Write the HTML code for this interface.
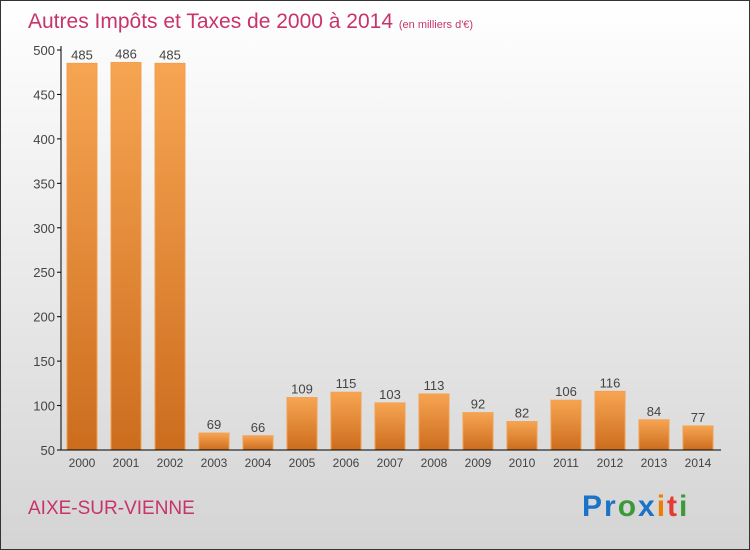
<!DOCTYPE html>
<html><head><meta charset="utf-8"><style>
body{margin:0;width:750px;height:550px;overflow:hidden;font-family:"Liberation Sans",sans-serif}
#wrap{position:absolute;left:0;top:0;width:748px;height:548px;border:1px solid #333;background:linear-gradient(#ffffff,#d4d4d4)}
</style></head><body>
<div id="wrap">
<svg id="chart" width="750" height="550" style="position:absolute;left:-1px;top:-1px">
<defs><linearGradient id="bg" x1="0" y1="0" x2="0" y2="1"><stop offset="0" stop-color="#f7a552"/><stop offset="1" stop-color="#cc6d1e"/></linearGradient></defs>
<text x="28" y="28" font-size="21" fill="#c8336b">Autres Impôts et Taxes de 2000 à 2014 <tspan font-size="11">(en milliers d'€)</tspan></text>
<g id="bars"></g>
<line x1="61" y1="46" x2="61" y2="450" stroke="#000"/>
<line x1="61" y1="450" x2="721" y2="450" stroke="#000"/>
<text x="28" y="514" font-size="19" fill="#c8336b">AIXE-SUR-VIENNE</text>
<text x="582" y="516" font-size="30" font-weight="bold" letter-spacing="2"><tspan fill="#1a73c8">Pr</tspan><tspan fill="#3a9a3a">o</tspan><tspan fill="#1a73c8">x</tspan><tspan fill="#f07c00">i</tspan><tspan fill="#e53935">t</tspan><tspan fill="#3a9a3a">i</tspan></text>
</svg></div>
<script>
const categories=["2000","2001","2002","2003","2004","2005","2006","2007","2008","2009","2010","2011","2012","2013","2014"];
const values=[485,486,485,69,66,109,115,103,113,92,82,106,116,84,77];
const yTicks=[50,100,150,200,250,300,350,400,450,500];
const NS="http://www.w3.org/2000/svg";
const y=v=>450-(v-50)*400/450;
const x=i=>60+i*44;
const g=document.getElementById('bars');
function mk(t,a){const e=document.createElementNS(NS,t);for(const k in a)e.setAttribute(k,a[k]);g.appendChild(e);return e;}
yTicks.forEach(t=>{
 const l=mk('line',{x1:57,x2:61,y1:y(t),y2:y(t),stroke:'#000'});
 
 
 const tx=mk('text',{x:55,y:y(t)+5,'font-size':13,'text-anchor':'end',fill:'#444'});
 tx.textContent=t;
 
 
});
categories.forEach((c,i)=>{
 const r=mk('rect',{x:x(i)+7,y:y(values[i]),width:30,height:450-y(values[i]),fill:'url(#bg)',stroke:'#f4a050','stroke-width':1});
 
 
 const v=mk('text',{x:x(i)+22,y:y(values[i])-4,'font-size':13,'text-anchor':'middle',fill:'#444'});
 v.textContent=values[i];
 
 
 const cl=mk('text',{x:x(i)+22,y:467,'font-size':12,'text-anchor':'middle',fill:'#444'});
 cl.textContent=c;
 
 
});
</script>
</body></html>
